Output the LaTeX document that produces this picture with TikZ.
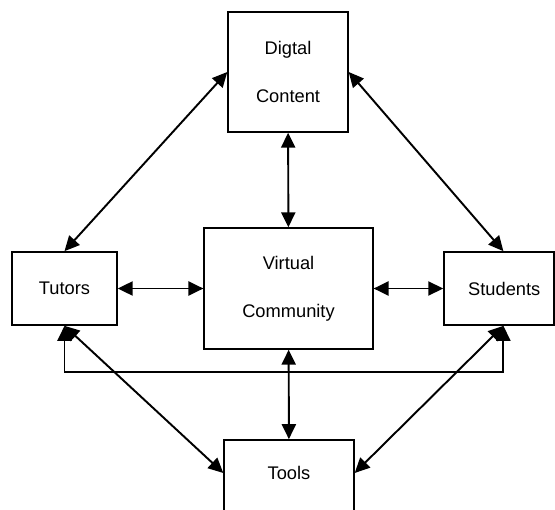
\documentclass[tikz,border=0pt]{standalone}
\usepackage{fontspec}
\setmainfont{Liberation Sans}
\usetikzlibrary{arrows.meta}

\begin{document}
\begin{tikzpicture}[x=0.02cm, y=-0.02cm, line width=1.1pt, >={Triangle[length=8.5pt,width=8pt]}]
    \tikzstyle{box}=[rectangle,draw=black,fill=white,inner sep=0pt,font=\fontsize{10.4}{27.2}\selectfont,align=center]
    \tikzstyle{link}=[<->]

    \useasboundingbox (0,0) rectangle (555,510);
    \clip (0,0) rectangle (555,510);

    % Draw the boxes
    \node[box, minimum width=68pt, minimum height=68pt] (content) at (288,72) {Digtal\\Content};
    \node[box, minimum width=59.5pt, minimum height=41.4pt] (tutors) at (64.5,288.5) {Tutors};
    \node[box, minimum width=95.8pt, minimum height=68.6pt] (hub) at (288.5,288.5) {Virtual\\Community};
    \node[box, minimum width=62.4pt, minimum height=41.4pt] (students) at (499,288.5) {\hspace*{6pt}Students};
    % the bottom of this one runs off the page
    \node[box, minimum width=73.7pt, minimum height=45.4pt, text depth=8pt] (tools) at (289,480) {Tools};

    % Connect the middle box with the four others
    \foreach \source/\dest in {tutors/hub, hub/students, content/hub, hub/tools}
        \draw[link] (\source) -- (\dest);

    % Connect the outer boxes round the edge
    \draw[link] (content.west) -- (tutors.north);
    \draw[link] (content.east) -- ([xshift=2.5pt]students.north);
    \draw[link] (tutors.south) -- ([yshift=4pt]tools.west);
    \draw[link] ([xshift=2.5pt]students.south) -- ([yshift=4pt]tools.east);
    \draw[link] (tutors.south) -- ++(0,46) -| ([xshift=2.5pt]students.south);
\end{tikzpicture}
\end{document}
